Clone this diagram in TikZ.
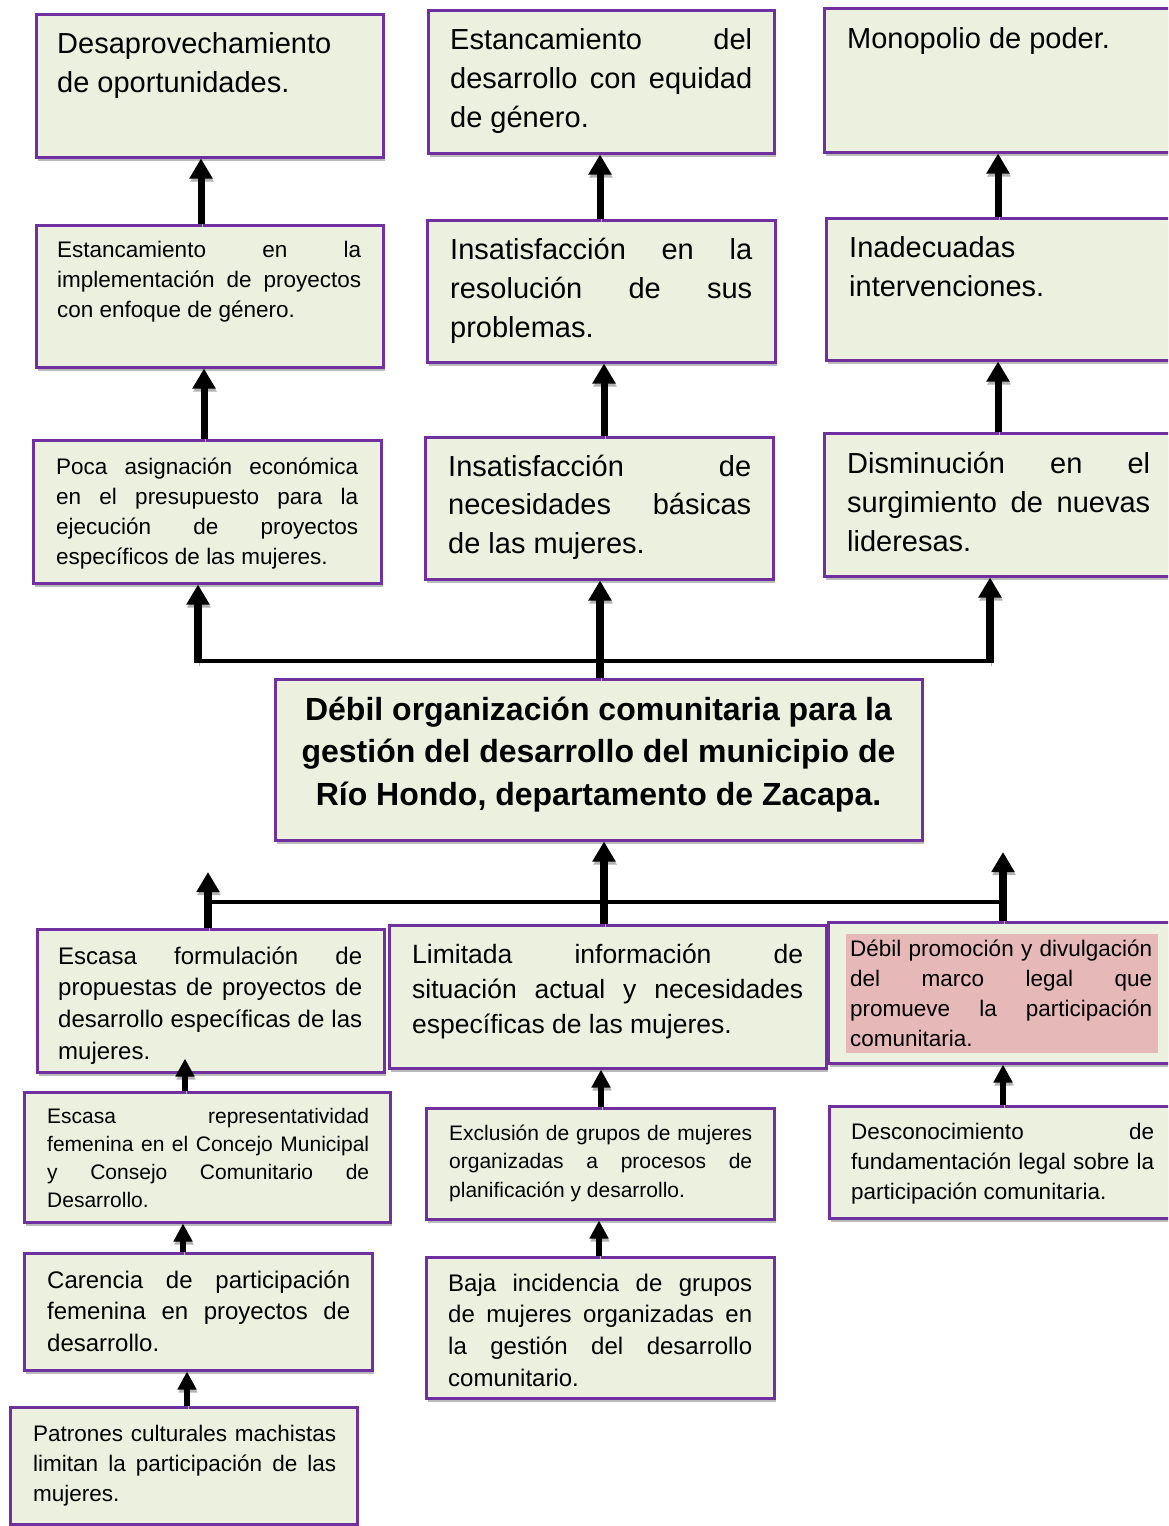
\documentclass[tikz,border=0pt]{standalone}
\usepackage{fontspec}
\setmainfont{Liberation Sans}
\usetikzlibrary{arrows.meta,shadows,calc}
\definecolor{bfill}{HTML}{EBF1DE}
\definecolor{bdraw}{HTML}{7030A0}
\definecolor{pinkhl}{HTML}{E6B8B7}
\newcommand{\bxt}[4]{\parbox[t]{#1pt}{\fontsize{#2}{#3}\selectfont\tolerance=10000\hbadness=10000\hyphenpenalty=10000\exhyphenpenalty=10000\relax #4}}
\newcommand{\mkbox}[5]{\node[box, minimum width={#4-#2}, minimum height={#5-#3}] (#1) at ({(#2+#4)/2},{(#3+#5)/2}) {};}
\begin{document}
\begin{tikzpicture}[x=1pt,y=-1pt,
  box/.style={rectangle, draw=bdraw, line width=3pt, fill=bfill, inner sep=0pt,
    drop shadow={shadow xshift=2pt, shadow yshift=-4pt, fill=black!45, opacity=0.6}},
  txt/.style={anchor=base west, inner sep=0pt},
  arrshadow/.style={preaction={draw=black!30, transform canvas={shift={(1pt,-3pt)}}}},
  arr/.style={line width=7pt, -{Triangle[width=22pt,length=20pt]}, arrshadow},
  arrs/.style={line width=6pt, -{Triangle[width=18pt,length=18pt]}, arrshadow},
  bracket/.style={line width=4pt}
]
\useasboundingbox (0,0) rectangle (1168,1526);
\clip (0,0) rectangle (1168,1526);
\fill[white] (0,0) rectangle (1168,1526);

% ---- boxes ----
\mkbox{b1}{36}{14}{383}{157}
\mkbox{b2}{428}{10}{774}{153}
\mkbox{b3}{824}{8}{1185}{152}
\mkbox{b4}{36}{225}{383}{367}
\mkbox{b5}{427}{220}{775}{362}
\mkbox{b6}{826}{218}{1185}{360}
\mkbox{b7}{33}{440}{381}{583}
\mkbox{b8}{425}{437}{773}{579}
\mkbox{b9}{824}{433}{1185}{576}
\mkbox{c}{275}{679}{922}{840}
\mkbox{b10}{37}{929}{384}{1072}
\mkbox{b11}{389}{925}{826}{1068}
\mkbox{b12}{828}{922}{1185}{1063}
\mkbox{b13}{24}{1092}{390}{1222}
\mkbox{b14}{426}{1108}{774}{1219}
\mkbox{b15}{829}{1106}{1185}{1218}
\mkbox{b16}{24}{1253}{372}{1370}
\mkbox{b17}{426}{1257}{774}{1398}
\mkbox{b18}{10}{1407}{357}{1524}

\node[fill=pinkhl, inner sep=0pt, minimum width=312, minimum height=119] (hl) at (1002,993.5) {};

% ---- texts ----
\node[txt] (t1) at (57,53) {\bxt{304}{29}{39}{Desaprovechamiento\newline de oportunidades.}};
\node[txt] (t2) at (450,49) {\bxt{302}{29}{39}{Estancamiento del\linebreak desarrollo con equidad\linebreak de género.}};
\node[txt] (t3) at (847,48) {\bxt{303}{29}{39}{Monopolio de poder.}};
\node[txt] (t4) at (57,257) {\bxt{304}{22.5}{30}{Estancamiento en la\linebreak implementación de proyectos\linebreak con enfoque de género.}};
\node[txt] (t5) at (450,259) {\bxt{302}{29}{39}{Insatisfacción en la\linebreak resolución de sus\linebreak problemas.}};
\node[txt] (t6) at (849,257) {\bxt{303}{29}{39}{Inadecuadas\newline intervenciones.}};
\node[txt] (t7) at (56,474) {\bxt{302}{22.5}{30}{Poca asignación económica\linebreak en el presupuesto para la\linebreak ejecución de proyectos\linebreak específicos de las mujeres.}};
\node[txt] (t8) at (448,476) {\bxt{303}{29}{38.5}{Insatisfacción de\linebreak necesidades básicas\linebreak de las mujeres.}};
\node[txt] (t9) at (847,473) {\bxt{303}{29}{39}{Disminución en el\linebreak surgimiento de nuevas\linebreak lideresas.}};
\node[anchor=base, inner sep=0pt] (ct) at (598.5,720) {\parbox[t]{640pt}{\centering\fontsize{32}{42.5}\selectfont\bfseries Débil organización comunitaria para la\\ gestión del desarrollo del municipio de\\ Río Hondo, departamento de Zacapa.}};
\node[txt] (t10) at (58,964) {\bxt{304}{24}{31.7}{Escasa formulación de\linebreak propuestas de proyectos de\linebreak desarrollo específicas de las\linebreak mujeres.}};
\node[txt] (t11) at (412,963) {\bxt{391}{26.5}{35}{Limitada información de\linebreak situación actual y necesidades\linebreak específicas de las mujeres.}};
\node[txt] (t12) at (850,956) {\bxt{302}{22.5}{30}{Débil promoción y divulgación\linebreak del marco legal que\linebreak promueve la participación\linebreak comunitaria.}};
\node[txt] (t13) at (47,1123) {\bxt{322}{21}{28}{Escasa representatividad\linebreak femenina en el Concejo Municipal\linebreak y Consejo Comunitario de\linebreak Desarrollo.}};
\node[txt] (t14) at (449,1140) {\bxt{303}{21}{28.5}{Exclusión de grupos de mujeres\linebreak organizadas a procesos de\linebreak planificación y desarrollo.}};
\node[txt] (t15) at (851,1139) {\bxt{303}{22.5}{30}{Desconocimiento de\linebreak fundamentación legal sobre la\linebreak participación comunitaria.}};
\node[txt] (t16) at (47,1288) {\bxt{303}{24}{31.7}{Carencia de participación\linebreak femenina en proyectos de\linebreak desarrollo.}};
\node[txt] (t17) at (448,1291) {\bxt{304}{24}{31.7}{Baja incidencia de grupos\linebreak de mujeres organizadas en\linebreak la gestión del desarrollo\linebreak comunitario.}};
\node[txt] (t18) at (33,1441) {\bxt{303}{22.5}{30}{Patrones culturales machistas\linebreak limitan la participación de las\linebreak mujeres.}};

% ---- upper connectors ----
\draw[arr] (b4.north -| 201,0) -- (b1.south -| 201,0);
\draw[arr] (b5.north -| 600,0) -- (b2.south -| 600,0);
\draw[arr] (b6.north -| 998,0) -- (b3.south -| 998,0);
\draw[arr] (b7.north -| 204,0) -- (b4.south -| 204,0);
\draw[arr] (b8.north -| 604,0) -- (b5.south -| 604,0);
\draw[arr] (b9.north -| 998,0) -- (b6.south -| 998,0);

\coordinate (h1) at (198,661);
\coordinate (h2) at (990,661);
\draw[bracket, line cap=rect] (h1) -- (h2);
\draw[arr, line width=8pt] ($(h1)+(0,2)$) -- (h1 |- b7.south);
\draw[arr, line width=8pt] ($(h2)+(0,2)$) -- (h2 |- b9.south);
\draw[arr, line width=8pt] (c.north -| 600,0) -- (b8.south -| 600,0);

% ---- lower connectors ----
\draw[arr, line width=8pt] (b11.north -| 604,0) -- (c.south -| 604,0);
\coordinate (g1) at (208,902);
\coordinate (g2) at (1003,902);
\coordinate (tl) at (208,872);
\coordinate (tr) at (1003,852);
\draw[bracket] (g1) -- (g2);
\draw[arr, line width=8pt] (b10.north -| tl) -- (tl);
\draw[arr, line width=8pt] (b12.north -| tr) -- (tr);

\draw[arrs] (b13.north -| 185,0) -- ($(b10.south -| 185,0)+(0,-15)$);
\draw[arrs] (b14.north -| 601,0) -- (b11.south -| 601,0);
\draw[arrs] (b15.north -| 1003,0) -- (b12.south -| 1003,0);
\draw[arrs] (b16.north -| 183,0) -- (b13.south -| 183,0);
\draw[arrs] (b17.north -| 599,0) -- (b14.south -| 599,0);
\draw[arrs] (b18.north -| 187,0) -- (b16.south -| 187,0);
\end{tikzpicture}
\end{document}
